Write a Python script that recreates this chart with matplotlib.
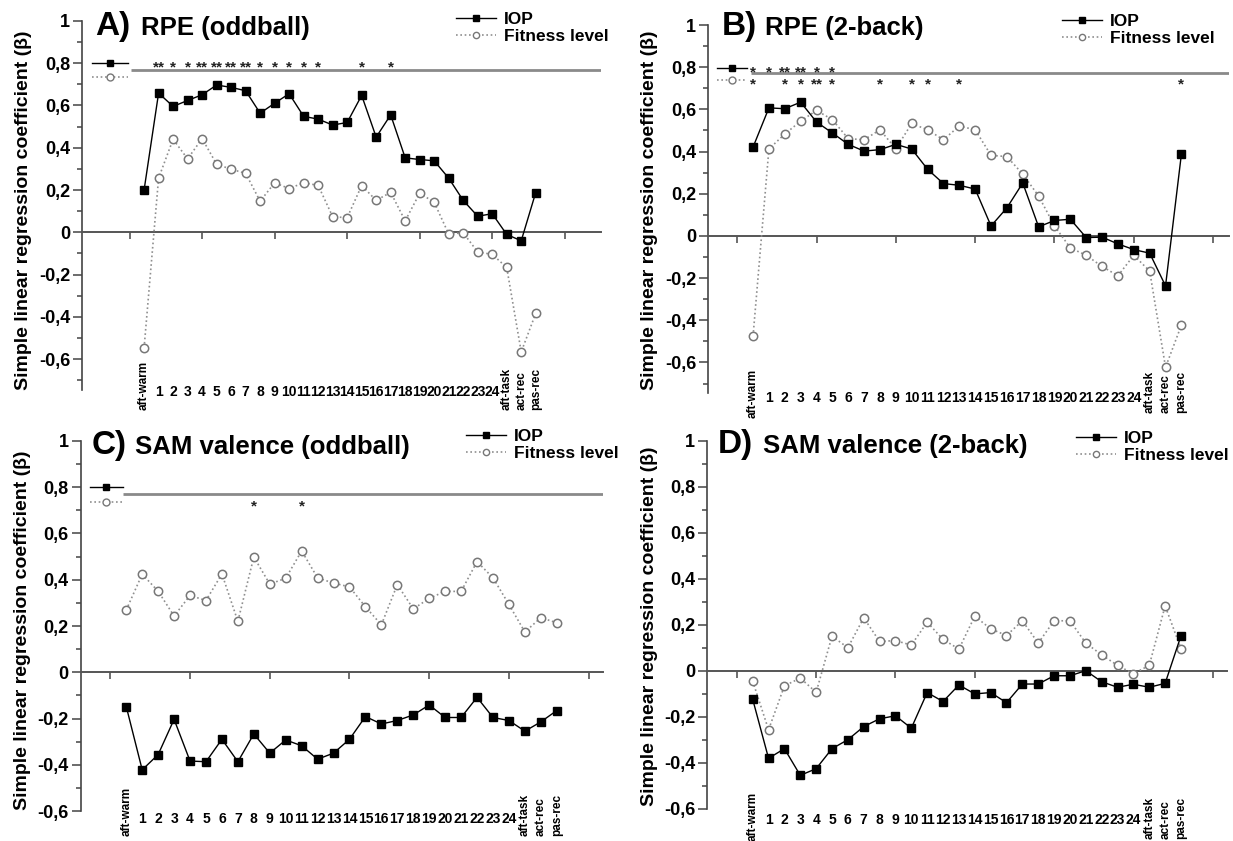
import numpy as np
import matplotlib
matplotlib.use("Agg")
import matplotlib.pyplot as plt
from matplotlib import font_manager
from matplotlib.ticker import MultipleLocator, FuncFormatter
from matplotlib.transforms import offset_copy
from matplotlib.lines import Line2D

W, H = 1233, 841

# fonts: Arial-like, narrow one for the packed x labels
names = {f.name for f in font_manager.fontManager.ttflist}
BASE = "Liberation Sans" if "Liberation Sans" in names else "DejaVu Sans"
NARROW = "Liberation Sans Narrow" if "Liberation Sans Narrow" in names else BASE
plt.rcParams["font.family"] = [BASE, "DejaVu Sans"]
plt.rcParams["font.weight"] = "bold"

# ---- data ----
LABELS = ["aft-warm", "1", "2", "3", "4", "5", "6", "7", "8", "9", "10", "11", "12",
          "13", "14", "15", "16", "17", "18", "19", "20", "21", "22", "23", "24",
          "aft-task", "act-rec", "pas-rec"]

A_IOP = [0.20, 0.658, 0.595, 0.623, 0.65, 0.696, 0.685, 0.669, 0.563, 0.61, 0.655,
         0.548, 0.535, 0.507, 0.519, 0.647, 0.45, 0.555, 0.352, 0.344, 0.338, 0.256,
         0.151, 0.076, 0.088, -0.01, -0.04, 0.188]
A_FIT = [-0.546, 0.256, 0.44, 0.347, 0.443, 0.322, 0.298, 0.279, 0.147, 0.234, 0.207,
         0.234, 0.222, 0.074, 0.069, 0.221, 0.151, 0.189, 0.054, 0.185, 0.142, -0.008,
         -0.002, -0.093, -0.104, -0.166, -0.565, -0.383]

B_IOP = [0.421, 0.607, 0.603, 0.634, 0.54, 0.488, 0.434, 0.402, 0.409, 0.434, 0.412,
         0.316, 0.248, 0.24, 0.222, 0.047, 0.133, 0.251, 0.043, 0.073, 0.079, -0.008,
         -0.006, -0.038, -0.065, -0.082, -0.237, 0.388]
B_FIT = [-0.475, 0.412, 0.483, 0.544, 0.595, 0.551, 0.461, 0.456, 0.503, 0.413, 0.533,
         0.503, 0.456, 0.521, 0.503, 0.382, 0.376, 0.293, 0.189, 0.047, -0.057, -0.092,
         -0.145, -0.189, -0.092, -0.167, -0.623, -0.423]

C_IOP = [-0.148, -0.421, -0.355, -0.203, -0.383, -0.386, -0.289, -0.386, -0.266, -0.349,
         -0.292, -0.317, -0.375, -0.349, -0.289, -0.191, -0.223, -0.208, -0.184, -0.141,
         -0.195, -0.195, -0.108, -0.195, -0.208, -0.254, -0.214, -0.165]
C_FIT = [0.269, 0.424, 0.35, 0.243, 0.332, 0.31, 0.425, 0.22, 0.498, 0.381, 0.406,
         0.524, 0.408, 0.385, 0.369, 0.283, 0.205, 0.379, 0.274, 0.319, 0.35, 0.349,
         0.478, 0.408, 0.293, 0.174, 0.236, 0.214]

D_IOP = [-0.124, -0.381, -0.339, -0.455, -0.426, -0.339, -0.30, -0.243, -0.209, -0.196,
         -0.25, -0.095, -0.134, -0.062, -0.101, -0.095, -0.139, -0.058, -0.058, -0.022,
         -0.022, 0.0, -0.048, -0.072, -0.059, -0.072, -0.055, 0.152]
D_FIT = [-0.045, -0.257, -0.066, -0.032, -0.094, 0.15, 0.10, 0.23, 0.127, 0.131, 0.111,
         0.211, 0.136, 0.094, 0.237, 0.182, 0.153, 0.217, 0.12, 0.217, 0.217, 0.12,
         0.069, 0.023, -0.013, 0.023, 0.282, 0.095]

# significance marks (index into LABELS -> stars)
A_IOP_STARS = {1: "**", 2: "*", 3: "*", 4: "**", 5: "**", 6: "**", 7: "**", 8: "*",
               9: "*", 10: "*", 11: "*", 12: "*", 15: "*", 17: "*"}
B_IOP_STARS = {0: "*", 1: "*", 2: "**", 3: "**", 4: "*", 5: "*"}
B_FIT_STARS = {0: "*", 2: "*", 3: "*", 4: "**", 5: "*", 8: "*", 10: "*", 11: "*",
               13: "*", 27: "*"}
C_FIT_STARS = {8: "*", 11: "*"}

Y_MAJOR = [-0.6, -0.4, -0.2, 0.0, 0.2, 0.4, 0.6, 0.8, 1.0]
X_TICKS = [-1, 4, 9, 14, 19, 24, 29]

fig = plt.figure(figsize=(W / 100, H / 100), dpi=100)


def fx(px):
    return px / W


def fy(py):
    return 1 - py / H


def ytick_fmt(v, pos):
    if abs(v) < 1e-9:
        return "0"
    if abs(v - 1) < 1e-9:
        return "1"
    return f"{v:.1f}".replace(".", ",")


def draw_panel(p):
    l, t, r, b = p["rect"]
    ax = fig.add_axes([fx(l), fy(b), fx(r) - fx(l), fy(t) - fy(b)])
    ax.set_xlim(*p["xlim"])
    ax.set_ylim(*p["ylim"])
    x = np.arange(len(LABELS))

    ax.plot(x, p["fit"], linestyle=(0, (1, 1.6)), color="#8f8f8f", lw=1.2,
            marker="o", ms=6, mfc="white", mec="#777777", mew=1.1, zorder=3)
    ax.plot(x, p["iop"], "-", color="black", lw=1.0, marker="s", ms=6.2,
            mfc="black", mec="black", zorder=4)

    for s in ("top", "right"):
        ax.spines[s].set_visible(False)
    ax.spines["bottom"].set_position(("data", 0))
    ax.spines["bottom"].set_color("#555555")
    ax.spines["bottom"].set_linewidth(1.4)
    ax.spines["left"].set_color("#444444")
    ax.spines["left"].set_linewidth(1.2)

    ax.set_yticks(Y_MAJOR)
    ax.yaxis.set_minor_locator(MultipleLocator(0.1))
    ax.yaxis.set_major_formatter(FuncFormatter(ytick_fmt))
    ax.tick_params(axis="y", which="major", length=6.5, width=1.1, color="#444444",
                   pad=2, labelsize=13)
    ax.tick_params(axis="y", which="minor", length=3.6, width=1.1, color="#444444")
    ax.set_xticks(X_TICKS)
    ax.tick_params(axis="x", which="major", length=5, width=1.2, color="#555555",
                   labelbottom=False)

    # category labels under the plot
    t_num = offset_copy(ax.get_xaxis_transform(), fig=fig, y=-p["num_off"], units="dots")
    t_rot = offset_copy(ax.get_xaxis_transform(), fig=fig, y=-p["rot_off"], units="dots")
    t_warm = offset_copy(ax.get_xaxis_transform(), fig=fig, y=-p["warm_off"], units="dots")
    for i, lab in enumerate(LABELS):
        if lab.isdigit():
            ax.text(i, 0, lab, transform=t_num, ha="center", va="center", fontsize=10,
                    family=[NARROW, "DejaVu Sans"], clip_on=False)
        else:
            ax.text(i, 0, lab, transform=t_warm if i == 0 else t_rot, rotation=90,
                    ha="center", va="bottom", fontsize=8.5, clip_on=False)

    # significance line and its row keys
    if p.get("sig"):
        x0, y0, kx0, kx1, ky_iop, ky_fit = p["sig"]
        ax.hlines(y0, x0, p["xlim"][1], color="#8a8a8a", lw=2, zorder=2)
        ax.plot([kx0, kx1], [ky_iop, ky_iop], "-", color="black", lw=1)
        ax.plot([(kx0 + kx1) / 2], [ky_iop], "s", color="black", ms=4.5)
        ax.plot([kx0, kx1], [ky_fit, ky_fit], linestyle=(0, (1, 1.6)), color="#8f8f8f", lw=1.2)
        ax.plot([(kx0 + kx1) / 2], [ky_fit], "o", ms=5, mfc="white", mec="#777777")
        t_star = offset_copy(ax.transData, fig=fig, y=-8.5, units="dots")
        for stars, yrow in ((p.get("iop_stars", {}), ky_iop), (p.get("fit_stars", {}), ky_fit)):
            for k, s in stars.items():
                ax.text(k, yrow, s, transform=t_star, ha="center", va="baseline",
                        fontsize=11, color="#222222")

    # legend
    h_iop = Line2D([], [], color="black", lw=1, marker="s", ms=6.2)
    h_fit = Line2D([], [], color="#8f8f8f", lw=1.2, linestyle=(0, (1, 1.6)),
                   marker="o", ms=6, mfc="white", mec="#777777")
    lx, ly = p["leg"]
    ax.legend([h_iop, h_fit], ["IOP", "Fitness level"], loc="upper left",
              bbox_to_anchor=(fx(lx), fy(ly)), bbox_transform=fig.transFigure,
              frameon=False, prop={"size": 12.5, "weight": "bold"}, handlelength=2.3,
              handletextpad=0.45, labelspacing=0.12, borderpad=0, borderaxespad=0,
              markerscale=0.75)

    # titles and axis label
    tx, ty, nx = p["title_pos"]
    fig.text(fx(tx), fy(ty), p["letter"], fontsize=24, va="baseline")
    fig.text(fx(nx), fy(ty), p["name"], fontsize=18.5, va="baseline")
    yx, yy = p["ylab"]
    fig.text(fx(yx), fy(yy), "Simple linear regression coefficient (β)", rotation=90,
             ha="center", va="center", fontsize=14)
    return ax


panels = [
    dict(rect=(82, 20.7, 601, 390), xlim=(-4.28, 31.5), ylim=(-0.745, 1.0),
         iop=A_IOP, fit=A_FIT, letter="A)", name="RPE (oddball)",
         title_pos=(95, 35.5, 141), leg=(456, 12), ylab=(24, 210),
         num_off=2, rot_off=20, warm_off=20,
         sig=(-0.92, 0.767, -3.6, -1.08, 0.80, 0.733), iop_stars=A_IOP_STARS),
    dict(rect=(708, 25, 1229, 393), xlim=(-2.84, 30.0), ylim=(-0.745, 1.0),
         iop=B_IOP, fit=B_FIT, letter="B)", name="RPE (2-back)",
         title_pos=(722, 35.5, 765), leg=(1062, 14), ylab=(650, 210),
         num_off=5, rot_off=20, warm_off=25,
         sig=(-0.15, 0.771, -2.3, -0.38, 0.797, 0.739),
         iop_stars=B_IOP_STARS, fit_stars=B_FIT_STARS),
    dict(rect=(80.5, 440.7, 603, 811.3), xlim=(-2.87, 29.9), ylim=(-0.6, 1.0),
         iop=C_IOP, fit=C_FIT, letter="C)", name="SAM valence (oddball)",
         title_pos=(92, 454, 135), leg=(466, 429), ylab=(23, 630),
         num_off=8, rot_off=25, warm_off=25,
         sig=(-0.2, 0.768, -2.3, -0.2, 0.80, 0.737), fit_stars=C_FIT_STARS),
    dict(rect=(707, 440.7, 1227, 808.7), xlim=(-2.88, 29.9), ylim=(-0.6, 1.0),
         iop=D_IOP, fit=D_FIT, letter="D)", name="SAM valence (2-back)",
         title_pos=(718, 453.5, 763), leg=(1076, 431), ylab=(650, 626),
         num_off=11, rot_off=30, warm_off=32),
]

for p in panels:
    draw_panel(p)

fig.savefig("out.png", dpi=100)
